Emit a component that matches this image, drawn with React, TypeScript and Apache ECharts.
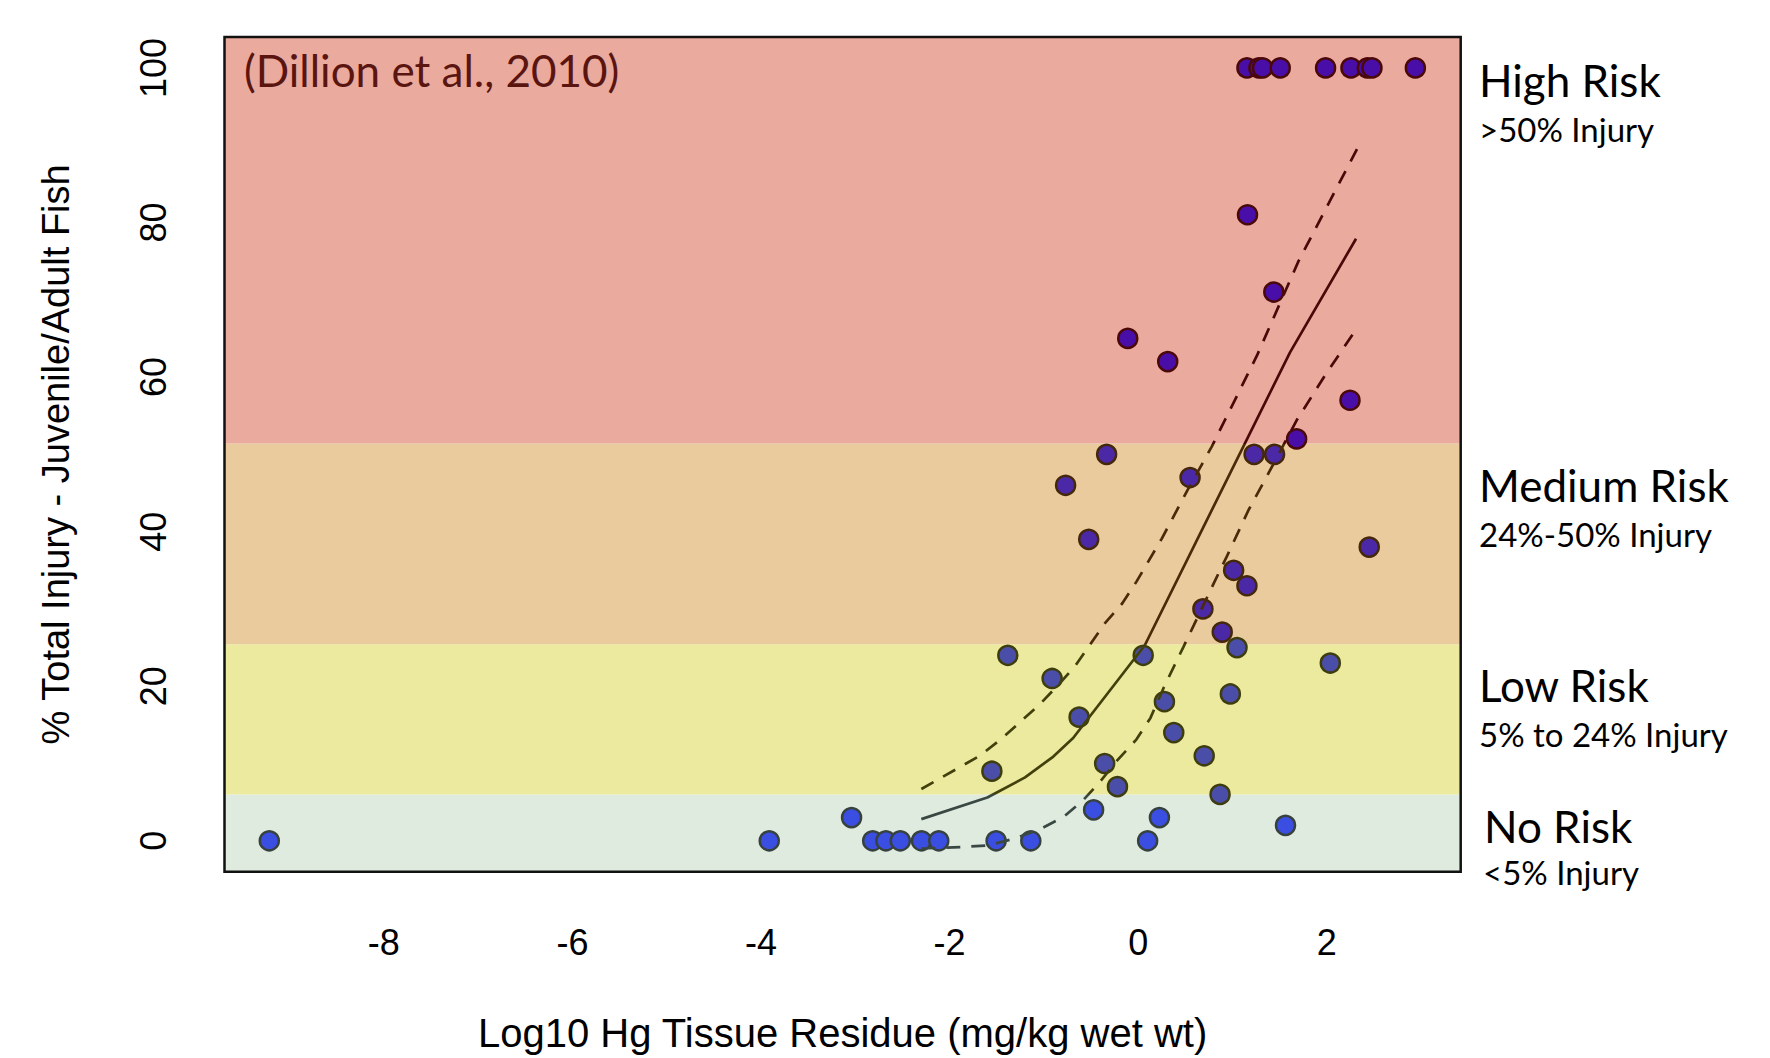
import React, { useEffect, useRef } from "react";
import * as echarts from "echarts";

// ---- axes ----
const xRange = [-9.69, 3.42];
const yRange = [-4, 104];
const xTicks = [-8, -6, -4, -2, 0, 2];
const yTicks = [0, 20, 40, 60, 80, 100];

// ---- observations (log10 Hg residue, % injury) ----
const pointX = [
  -9.215, -3.913, -2.816, -2.676, -2.523, -2.298, -2.115, -1.507, -1.139, 0.1,
  -3.04, 0.225, -0.473, 1.562, 0.868, -0.22, -1.552, -0.356, 0.7, 0.377,
  -0.627, 0.278, 0.977, -0.913, 2.037, -1.383, 0.053, 1.048, 0.891, 0.686,
  1.153, 1.012, 2.45, -0.525, -0.77, 0.55, -0.335, 1.229, 1.446, 1.68,
  2.246, 0.313, -0.111, 1.438, 1.159,
  1.153, 1.28, 1.318, 1.506, 1.987, 2.256, 2.43, 2.479, 2.939,
];
const pointY = [
  0, 0, 0, 0, 0, 0, 0, 0, 0, 0,
  3, 3, 4, 2, 6, 7, 9, 10, 11, 14,
  16, 18, 19, 21, 23, 24, 24, 25, 27, 30,
  33, 35, 38, 39, 46, 47, 50, 50, 50, 52,
  57, 62, 65, 71, 81,
  100, 100, 100, 100, 100, 100, 100, 100, 100,
];

// ---- fitted dose-response curve and confidence limits ----
const fitX = [-2.3, -1.6, -1.2, -0.9, -0.69, 0.07, 1.61, 2.31];
const fitY = [2.8, 5.6, 8.2, 10.9, 13.3, 25.3, 63.2, 77.9];
const upperX = [-2.3, -1.68, -1.45, -1.24, -1.04, -0.86, -0.67, -0.51, -0.35, -0.17, -0.02, 0.25, 0.52, 0.78, 1.26, 1.7, 2.32];
const upperY = [6.7, 11.0, 13.2, 15.5, 17.7, 20.0, 22.6, 25.4, 28.2, 30.7, 33.5, 39.1, 45.3, 51.0, 62.8, 75.0, 89.5];
const lowerX = [-2.3, -1.86, -1.59, -1.31, -1.04, -0.79, -0.58, -0.4, -0.23, -0.02, 0.13, 0.27, 0.48, 0.59, 0.82, 0.94, 1.17, 1.37, 1.68, 1.97, 2.29];
const lowerY = [-1.0, -0.8, -0.6, 0.3, 1.5, 3.1, 5.3, 7.7, 10.3, 13.1, 15.9, 19.8, 25.1, 27.9, 33.8, 36.8, 42.8, 47.3, 54.4, 60.0, 65.8];

// ---- risk bands ----
const bandBreaks = [-4, 5.99, 25.44, 51.4, 105];
const bandTitles = ["No Risk", "Low Risk", "Medium Risk", "High Risk"];
const bandRanges = ["<5% Injury", "5% to 24% Injury", "24%-50% Injury", ">50% Injury"];

const citation = "(Dillion et al., 2010)";
const xTitle = "Log10 Hg Tissue Residue (mg/kg wet wt)";
const yTitle = "% Total Injury - Juvenile/Adult Fish";

// ---- styles ----
const bandFill = ["#dfebdf", "#ecea9e", "#eacb9e", "#eaaa9e"];
const pointFill = ["#3a4ee2", "#4a4ea8", "#4a28a6", "#4a0ea8"];
const pointBorder = ["#37423f", "#3e3d0e", "#45280a", "#4a0808"];
const lineColor = ["#3a4844", "#42400c", "#4a2a08", "#4a0808"];

const bandOf = (y: number) => {
  for (let i = 0; i < bandBreaks.length - 2; i++) if (y < bandBreaks[i + 1]) return i;
  return bandBreaks.length - 2;
};

const AXIS_FONT = "'Liberation Sans', Arial, sans-serif";
const LABEL_FONT = "Lato, 'Open Sans', sans-serif";

export default function App() {
  const ref = useRef<HTMLDivElement>(null);

  useEffect(() => {
    document.body.style.margin = "0";
    if (!ref.current) return;
    const chart = echarts.init(ref.current, undefined, { renderer: "svg" });

    const pts = pointX.map((x, i) => {
      const b = bandOf(pointY[i]);
      return {
        value: [x, pointY[i]],
        itemStyle: { color: pointFill[b], borderColor: pointBorder[b], borderWidth: 2.5, opacity: 1 },
      };
    });

    const titleLayout = [
      { x: 1484, y: 825.5 },
      { x: 1479, y: 684.7 },
      { x: 1479, y: 484.7 },
      { x: 1479, y: 79.7 },
    ];
    const rangeLayout = [
      { x: 1483, y: 871.5 },
      { x: 1479, y: 733.9 },
      { x: 1479, y: 533.9 },
      { x: 1479, y: 128.9 },
    ];

    const graphics: any[] = [];
    bandTitles.forEach((t, i) => {
      graphics.push({
        type: "text",
        x: titleLayout[i].x,
        y: titleLayout[i].y,
        z: 20,
        style: { text: t, fill: "#000", font: `44px ${LABEL_FONT}`, textAlign: "left", textVerticalAlign: "middle" },
      });
      graphics.push({
        type: "text",
        x: rangeLayout[i].x,
        y: rangeLayout[i].y,
        z: 20,
        style: { text: bandRanges[i], fill: "#000", font: `33px ${LABEL_FONT}`, textAlign: "left", textVerticalAlign: "middle" },
      });
    });
    graphics.push({
      type: "text",
      x: 244,
      y: 69.7,
      z: 20,
      style: { text: citation, fill: "#5a1510", font: `44px ${LABEL_FONT}`, textAlign: "left", textVerticalAlign: "middle" },
    });

    const curve = (xs: number[], ys: number[], dashed: boolean) => ({
      type: "line",
      data: xs.map((x, i) => [x, ys[i]]),
      symbol: "none",
      z: 4,
      silent: true,
      lineStyle: { width: 2.7, type: dashed ? [14, 11] : "solid", opacity: 1 },
    });

    chart.setOption({
      animation: false,
      backgroundColor: "#ffffff",
      grid: {
        left: 224.5,
        right: 309.3,
        top: 37,
        bottom: 186.3,
        show: true,
        borderColor: "#111",
        borderWidth: 2.5,
        backgroundColor: "transparent",
        z: 5,
      },
      xAxis: {
        type: "value",
        min: xRange[0],
        max: xRange[1],
        name: xTitle,
        nameLocation: "middle",
        nameGap: 141,
        nameTextStyle: { fontFamily: AXIS_FONT, fontSize: 40, color: "#000" },
        axisLine: { show: false },
        splitLine: { show: false },
        axisTick: { show: true, length: 24, customValues: xTicks, lineStyle: { color: "#000", width: 2.5 } },
        axisLabel: { margin: 53, customValues: xTicks, fontFamily: AXIS_FONT, fontSize: 36, color: "#000" },
      },
      yAxis: {
        type: "value",
        min: yRange[0],
        max: yRange[1],
        name: yTitle,
        nameLocation: "middle",
        nameGap: 150,
        nameTextStyle: { fontFamily: AXIS_FONT, fontSize: 38, color: "#000" },
        axisLine: { show: false },
        splitLine: { show: false },
        axisTick: { show: true, length: 25, customValues: yTicks, lineStyle: { color: "#000", width: 2.5 } },
        axisLabel: { margin: 53, rotate: 90, customValues: yTicks, fontFamily: AXIS_FONT, fontSize: 36, color: "#000" },
      },
      visualMap: [
        {
          type: "piecewise",
          show: false,
          dimension: 1,
          seriesIndex: [2, 3, 4],
          pieces: [
            { lt: bandBreaks[1], color: lineColor[0] },
            { gte: bandBreaks[1], lt: bandBreaks[2], color: lineColor[1] },
            { gte: bandBreaks[2], lt: bandBreaks[3], color: lineColor[2] },
            { gte: bandBreaks[3], color: lineColor[3] },
          ],
        },
      ],
      series: [
        {
          type: "line",
          data: [],
          z: 1,
          silent: true,
          markArea: {
            silent: true,
            z: 1,
            data: bandFill.map((c, i) => [
              { yAxis: bandBreaks[i], itemStyle: { color: c, borderWidth: 0, opacity: 1 } },
              { yAxis: bandBreaks[i + 1] },
            ]),
          },
        },
        {
          type: "scatter",
          data: pts,
          symbol: "circle",
          symbolSize: 19,
          z: 3,
          silent: true,
          itemStyle: { opacity: 1 },
        },
        curve(fitX, fitY, false),
        curve(upperX, upperY, true),
        curve(lowerX, lowerY, true),
      ],
      graphic: graphics,
    });

    return () => chart.dispose();
  }, []);

  return (
    <div
      ref={ref}
      style={{ position: "absolute", left: 0, top: 0, width: 1770, height: 1058 }}
    />
  );
}
